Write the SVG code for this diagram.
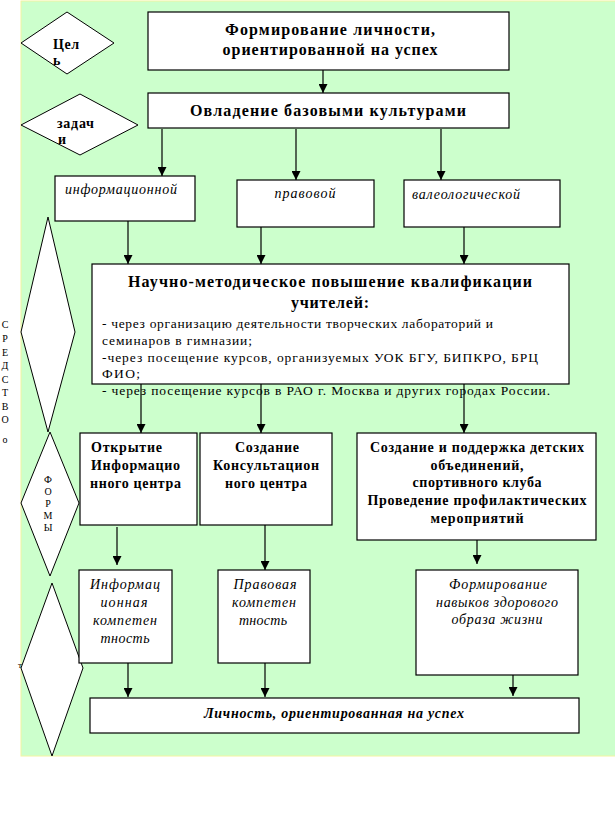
<svg xmlns="http://www.w3.org/2000/svg" width="615" height="819" viewBox="0 0 615 819">
<style>
.bx{fill:#fff;stroke:#000;stroke-width:1.2}
.dm{fill:#fff;stroke:#000;stroke-width:1}
text{font-family:'Liberation Serif','Times New Roman',serif;fill:#000}
.b{font-weight:bold}
.i{font-style:italic}
.c{text-anchor:middle}
.ln{stroke:#000;stroke-width:1.2;fill:none}
</style>
<defs>
<marker id="a" markerWidth="9" markerHeight="9" refX="9" refY="4.5" orient="auto" markerUnits="userSpaceOnUse">
<path d="M0,0 L9,4.5 L0,9 Z" fill="#000"/>
</marker>
</defs>
<rect x="0" y="0" width="615" height="819" fill="#fff"/>
<rect x="21" y="1" width="600" height="755" fill="#ccffcc" stroke="#f4f4a0" stroke-width="1"/>

<g id="connectors">
<line class="ln" x1="323" y1="70" x2="323" y2="93" marker-end="url(#a)"/>
<line class="ln" x1="162" y1="129" x2="162" y2="176" marker-end="url(#a)"/>
<line class="ln" x1="296" y1="129" x2="296" y2="180" marker-end="url(#a)"/>
<line class="ln" x1="441" y1="129" x2="441" y2="180" marker-end="url(#a)"/>
<line class="ln" x1="128" y1="217" x2="128" y2="264" marker-end="url(#a)"/>
<line class="ln" x1="261" y1="227" x2="261" y2="264" marker-end="url(#a)"/>
<line class="ln" x1="464" y1="227" x2="464" y2="264" marker-end="url(#a)"/>
<line class="ln" x1="141" y1="384" x2="141" y2="433" marker-end="url(#a)"/>
<line class="ln" x1="261" y1="384" x2="261" y2="433" marker-end="url(#a)"/>
<line class="ln" x1="464" y1="384" x2="464" y2="433" marker-end="url(#a)"/>
<line class="ln" x1="117" y1="527" x2="117" y2="565" marker-end="url(#a)"/>
<line class="ln" x1="265" y1="525" x2="265" y2="570" marker-end="url(#a)"/>
<line class="ln" x1="477" y1="540" x2="477" y2="564" marker-end="url(#a)"/>
<line class="ln" x1="128" y1="661" x2="128" y2="697" marker-end="url(#a)"/>
<line class="ln" x1="265" y1="663" x2="265" y2="697" marker-end="url(#a)"/>
<line class="ln" x1="513" y1="672" x2="513" y2="696" marker-end="url(#a)"/>
</g>

<g id="goal-diamond">
<polygon class="dm" points="67,12 114,43 67,74 21,43"/>
<text class="b" x="53" y="49" font-size="14" textLength="26">Цел</text>
<text class="b" x="53" y="65" font-size="14">ь</text>
</g>
<g id="tasks-diamond">
<polygon class="dm" points="80,94 138,125 80,155 21,125"/>
<text class="b" x="57" y="128" font-size="14" textLength="37">задач</text>
<text class="b" x="58" y="144" font-size="14">и</text>
</g>
<g id="means-diamond">
<polygon class="dm" points="48,217 75,332 48,432 21,332"/>
</g>
<g id="means-label">
<text class="c" font-size="10">
<tspan x="5" y="328">С</tspan><tspan x="5" y="342">Р</tspan><tspan x="5" y="356">Е</tspan><tspan x="5" y="369">Д</tspan><tspan x="5" y="383">С</tspan><tspan x="5" y="396">Т</tspan><tspan x="5" y="410">В</tspan><tspan x="5" y="423">О</tspan><tspan x="5" y="443">о</tspan>
</text>
</g>
<g id="forms-diamond">
<polygon class="dm" points="50,432 79,503 50,576 21,503"/>
<text class="c" font-size="10">
<tspan x="48" y="483">Ф</tspan><tspan x="48" y="495">О</tspan><tspan x="48" y="507">Р</tspan><tspan x="48" y="519">М</tspan><tspan x="48" y="531">Ы</tspan>
</text>
</g>
<g id="result-diamond">
<polygon class="dm" points="52,583 83,668 52,756 21,668"/>
<text x="18" y="668" font-size="9">т</text>
</g>

<g id="goal">
<rect class="bx" x="148" y="12" width="361" height="58"/>
<text class="b c" x="330" y="35" font-size="16" textLength="210">Формирование личности,</text>
<text class="b c" x="330" y="55" font-size="16" textLength="215">ориентированной на успех</text>
</g>
<g id="base-cultures">
<rect class="bx" x="148" y="93" width="361" height="35"/>
<text class="b c" x="328" y="116" font-size="16" textLength="276">Овладение базовыми культурами</text>
</g>
<g id="info-culture">
<rect class="bx" x="55" y="176" width="140" height="45"/>
<text class="i" x="65" y="194" font-size="14" textLength="112">информационной</text>
</g>
<g id="legal-culture">
<rect class="bx" x="237" y="180" width="137" height="47"/>
<text class="i c" x="305" y="198" font-size="14" textLength="61">правовой</text>
</g>
<g id="valeo-culture">
<rect class="bx" x="404" y="180" width="156" height="47"/>
<text class="i" x="412" y="199" font-size="14" textLength="108">валеологической</text>
</g>
<g id="qualification">
<rect class="bx" x="92" y="264" width="477" height="120"/>
<text class="b c" x="330" y="287" font-size="16" textLength="404">Научно-методическое повышение квалификации</text>
<text class="b c" x="330" y="308" font-size="16" textLength="78">учителей:</text>
<text x="102" y="328" font-size="13.5" textLength="391">- через организацию деятельности творческих лабораторий и</text>
<text x="102" y="345" font-size="13.5" textLength="150">семинаров в гимназии;</text>
<text x="102" y="362" font-size="13.5" textLength="436">-через посещение курсов, организуемых УОК БГУ, БИПКРО, БРЦ</text>
<text x="102" y="378" font-size="13.5" textLength="38">ФИО;</text>
<text x="102" y="395" font-size="13.5" textLength="448">- через посещение курсов в РАО г. Москва и других городах России.</text>
</g>
<g id="info-center">
<rect class="bx" x="80" y="433" width="117" height="92"/>
<text class="b" x="91" y="452" font-size="14" textLength="71">Открытие</text>
<text class="b" x="91" y="470" font-size="14" textLength="89">Информацио</text>
<text class="b" x="90" y="488" font-size="14" textLength="91">нного центра</text>
</g>
<g id="consult-center">
<rect class="bx" x="200" y="433" width="132" height="92"/>
<text class="b c" x="267" y="452" font-size="14" textLength="64">Создание</text>
<text class="b c" x="266" y="470" font-size="14" textLength="106">Консультацион</text>
<text class="b c" x="266" y="488" font-size="14" textLength="82">ного центра</text>
</g>
<g id="children-clubs">
<rect class="bx" x="357" y="433" width="239" height="107"/>
<text class="b c" x="477" y="452" font-size="14" textLength="214">Создание и поддержка детских</text>
<text class="b c" x="477" y="470" font-size="14" textLength="93">объединений,</text>
<text class="b c" x="477" y="487" font-size="14" textLength="129">спортивного клуба</text>
<text class="b c" x="477" y="505" font-size="14" textLength="219">Проведение профилактических</text>
<text class="b c" x="477" y="523" font-size="14" textLength="93">мероприятий</text>
</g>
<g id="info-competence">
<rect class="bx" x="79" y="570" width="93" height="93"/>
<text class="i c" x="125" y="589" font-size="14" textLength="70">Информац</text>
<text class="i c" x="124" y="607" font-size="14" textLength="47">ионная</text>
<text class="i c" x="125" y="625" font-size="14" textLength="64">компетен</text>
<text class="i c" x="125" y="643" font-size="14" textLength="49">тность</text>
</g>
<g id="legal-competence">
<rect class="bx" x="218" y="570" width="92" height="93"/>
<text class="i c" x="265" y="589" font-size="14" textLength="63">Правовая</text>
<text class="i c" x="264" y="607" font-size="14" textLength="64">компетен</text>
<text class="i c" x="263" y="625" font-size="14" textLength="48">тность</text>
</g>
<g id="healthy-lifestyle">
<rect class="bx" x="416" y="570" width="162" height="105"/>
<text class="i c" x="498" y="589" font-size="14" textLength="98">Формирование</text>
<text class="i c" x="497" y="607" font-size="14" textLength="122">навыков здорового</text>
<text class="i c" x="497" y="624" font-size="14" textLength="91">образа жизни</text>
</g>
<g id="result">
<rect class="bx" x="90" y="698" width="489" height="35"/>
<text class="b i c" x="334" y="718" font-size="14" textLength="260">Личность, ориентированная на успех</text>
</g>
</svg>
